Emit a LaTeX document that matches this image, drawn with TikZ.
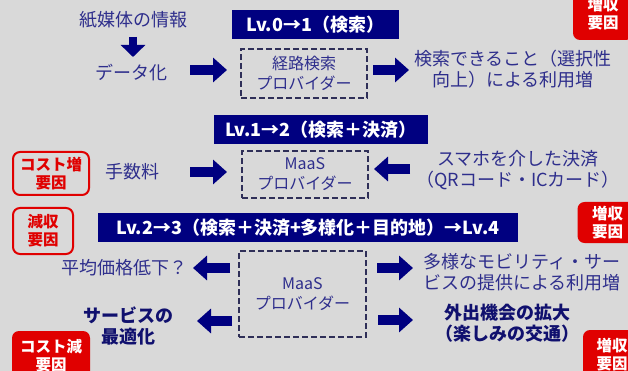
\documentclass[tikz,border=0pt]{standalone}
\usepackage{fontspec}
\setmainfont{Noto Sans CJK JP}
\usetikzlibrary{arrows.meta}
\definecolor{bg}{HTML}{D9D9D9}
\definecolor{navy}{HTML}{000080}
\definecolor{txt}{HTML}{2E2E8C}
\definecolor{dtxt}{HTML}{10106E}
\definecolor{boxline}{HTML}{2F2F58}
\definecolor{bred}{HTML}{E00000}
\begin{document}
\begin{tikzpicture}[x=1pt,y=-1pt,
  lbl/.style={text=txt, font=\fontsize{18}{21}\selectfont, align=center, inner sep=0pt},
  blbl/.style={text=dtxt, font=\bfseries\fontsize{18}{21}\selectfont, align=center, inner sep=0pt},
  bar/.style={fill=navy, text=white, font=\bfseries\fontsize{18}{20}\selectfont, minimum height=29pt, inner sep=0pt},
  prov/.style={draw=boxline, dash pattern=on 6pt off 3pt, line width=2pt, text=txt, font=\fontsize{16}{20}\selectfont, align=center, inner sep=0pt},
  badge/.style={rounded corners=7pt, line width=2pt, align=center, inner sep=0pt, font=\bfseries\fontsize{15.5}{18}\selectfont},
  badgeo/.style={badge, draw=bred, fill=bg, text=bred},
  badgef/.style={badge, fill=bred, text=white},
  barrow/.style={draw=navy, line width=10pt, -{Triangle[length=14pt,width=24pt]}},
  darrow/.style={draw=navy, line width=8pt, -{Triangle[length=12pt,width=24pt]}}
]
\useasboundingbox (0,0) rectangle (628,371);
\fill[bg] (0,0) rectangle (628,371);

% badges
\node[badgef, minimum width=60pt, minimum height=52pt] (bA) at (603,14) {増収\\要因};
\node[badgeo, minimum width=76pt, minimum height=43pt] (bB) at (51,173.5) {コスト増\\要因};
\node[badgeo, minimum width=60pt, minimum height=46pt] (bC) at (43,231) {減収\\要因};
\node[badgef, minimum width=60pt, minimum height=41pt] (bD) at (607.5,222.5) {増収\\要因};
\node[badgef, minimum width=78pt, minimum height=50pt] (bE) at (51,356) {コスト減\\要因};
\node[badgef, minimum width=58pt, minimum height=50pt] (bF) at (612,355) {増収\\要因};

% title bars
\node[bar, minimum width=167pt] (t1) at (315.5,24.5) {Lv.0→1（検索）};
\node[bar, minimum width=214pt] (t2) at (321,129.5) {Lv.1→2（検索＋決済）};
\node[bar, minimum width=420pt] (t3) at (308,227.5) {Lv.2→3（検索＋決済+多様化＋目的地）→Lv.4};

% provider boxes
\node[prov, minimum width=126pt, minimum height=49pt] (p1) at (304,73.5) {経路検索\\プロバイダー};
\node[prov, minimum width=126pt, minimum height=47pt] (p2) at (305,174.5) {MaaS\\プロバイダー};
\node[prov, minimum width=127pt, minimum height=86pt] (p3) at (302.5,294) {MaaS\\プロバイダー};

% labels
\node[lbl] (paper) at (133,20) {紙媒体の情報};
\node[lbl] (data) at (131,73) {データ化};
\node[lbl] (srch) at (513,69) {検索できること（選択性\\向上）による利用増};
\node[lbl] (fee) at (132,172) {手数料};
\node[lbl] (pay) at (518,170) {スマホを介した決済\\（QRコード・ICカード）};
\node[lbl] (avg) at (124,268) {平均価格低下？};
\node[blbl] (opt) at (128,326) {サービスの\\最適化};
\node[lbl] (div) at (522,272) {多様なモビリティ・サー\\ビスの提供による利用増};
\node[blbl] (out) at (507,323) {外出機会の拡大\\（楽しみの交通）};

% arrow end points
\coordinate (d1s) at (133,37);  \coordinate (d1e) at (133,57);
\coordinate (r1s) at (190,70);  \coordinate (r1e) at (227,70);
\coordinate (r2s) at (373,70);  \coordinate (r2e) at (409,70);
\coordinate (r3s) at (190,172); \coordinate (r3e) at (227,172);
\coordinate (l1s) at (410,169); \coordinate (l1e) at (374,169);
\coordinate (l2s) at (230,268); \coordinate (l2e) at (193,268);
\coordinate (l3s) at (232,321); \coordinate (l3e) at (197,321);
\coordinate (r4s) at (377,268); \coordinate (r4e) at (413,268);
\coordinate (r5s) at (378,320); \coordinate (r5e) at (413,320);

\draw[darrow] (d1s) -- (d1e);
\draw[barrow] (r1s) -- (r1e);
\draw[barrow] (r2s) -- (r2e);
\draw[barrow] (r3s) -- (r3e);
\draw[barrow] (l1s) -- (l1e);
\draw[barrow] (l2s) -- (l2e);
\draw[barrow] (l3s) -- (l3e);
\draw[barrow] (r4s) -- (r4e);
\draw[barrow] (r5s) -- (r5e);
\end{tikzpicture}
\end{document}
